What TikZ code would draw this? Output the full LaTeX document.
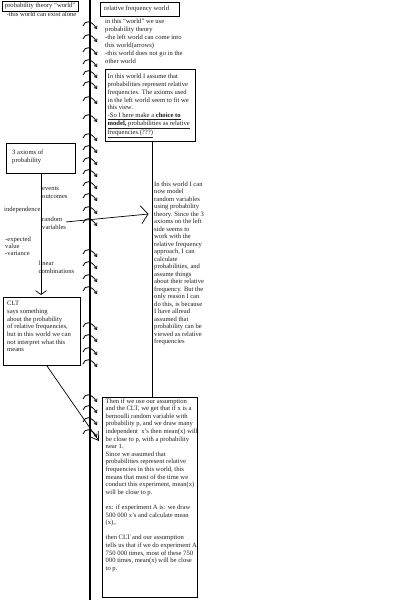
\documentclass[tikz,border=0pt]{standalone}
\usepackage{fontspec}
\setmainfont{Liberation Serif}
\usetikzlibrary{arrows.meta}
\definecolor{PWInk}{HTML}{1E1E1E}
\definecolor{PWLine}{HTML}{000000}
\newcommand{\pwfont}{\fontsize{6.6}{7.6}\selectfont}
\tikzset{
  pwframe/.style={
    draw=PWLine,
    line width=1pt,
    anchor=north west,
    inner sep=0pt
  },
  pwtext/.style={
    anchor=north west,
    inner sep=0pt,
    align=left,
    font=\pwfont,
    text=PWInk
  },
  pwwall/.style={draw=PWLine,line width=1.6pt},
  pwhop/.style={-{Straight Barb[length=2.2pt,width=3.6pt]},draw=PWLine,line width=0.8pt},
  pwflow/.style={-{Straight Barb[length=7pt,width=18pt]},draw=PWLine,line width=0.7pt},
  pwdown/.style={-{Straight Barb[length=4pt,width=11pt]},draw=PWLine,line width=0.7pt}
}

\begin{document}
\begin{tikzpicture}[x=1pt,y=-1pt]
  \useasboundingbox (0,0) rectangle (405,600);
  \fill[white] (0,0) rectangle (405,600);

  % the wall between the two worlds
  \coordinate (walltop) at (90,0);
  \coordinate (wallfoot) at (90,600);
  \draw[pwwall] (walltop) -- (wallfoot);
  \foreach \y in {24,37,50,62,73,84,99,117,136,148,160,172,184,196,209,221,
                  252,264,277,289,325,337,350,362,397,408,420,432}
    \draw[pwhop] (83,\y+2) .. controls (85,\y-4) and (91,\y-4) .. (97,\y+5);

  % left world
  \node[pwframe,minimum width=76pt,minimum height=10.5pt] (theorybox) at (2,0.5) {};
  \node[pwtext] (theorytitle) at (4.8,2.6) {probability theory ``world''};
  \node[pwtext] (alone) at (6.5,12) {-this world can exist alone};

  \node[pwframe,minimum width=69pt,minimum height=30pt] (axbox) at (6,143) {};
  \node[pwtext,font=\fontsize{6.6}{8}\selectfont] (axtext) at (12,149.4) {3 axioms of\\probability};

  \node[pwtext,font=\fontsize{6.6}{8}\selectfont] (events) at (42,186.4) {events\\outcomes};
  \node[pwtext] (indep) at (4,206.4) {independence};
  \node[pwtext,font=\fontsize{6.6}{8}\selectfont] (rvtext) at (42,216.4) {random\\variables};
  \node[pwtext,font=\fontsize{6.6}{7}\selectfont] (moments) at (5,236.4) {-expected\\value\\-variance};
  \node[pwtext,font=\fontsize{6.6}{8}\selectfont] (lincomb) at (38.5,260.4) {linear\\combinations};

  \node[pwframe,minimum width=77pt,minimum height=68pt] (cltbox) at (3,297) {};
  \node[pwtext,font=\fontsize{6.6}{7.67}\selectfont] (clttext) at (7,301.4) {CLT\\says something\\about the probability\\of relative frequencies,\\but in this world we can\\not interpret what this\\means};

  % right world
  \node[pwframe,minimum width=79.5pt,minimum height=13.5pt] (freqworld) at (99.5,2) {};
  \node[pwtext] (freqtitle) at (104,5.7) {relative frequency world};
  \node[pwtext,font=\fontsize{6.6}{8}\selectfont] (intro) at (105,19.1) {in this ``world'' we use\\probability theory\\-the left world can come into\\this world(arrows)\\-this world does not go in the\\other world};

  \node[pwframe,minimum width=89.5pt,minimum height=72pt] (freqbox) at (105,69) {};
  \node[pwtext,font=\fontsize{6.6}{7.75}\selectfont] (freqtext) at (107.5,74.1) {In this world I assume that\\probabilities represent relative\\frequencies. The axioms used\\in the left world seem to fit we\\this view.\\\underline{-So I here make a \textbf{choice to}}\\\underline{\textbf{model,} probabilities as relative}\\\underline{frequencies.(???)}};

  \node[pwtext,font=\fontsize{6.6}{7.5}\selectfont] (modeltext) at (154,181.4) {In this world I can\\now model\\random variables\\using probability\\theory. Since the 3\\axioms on the left\\side seems to\\work with the\\relative frequency\\approach, I can\\calculate\\probabilities, and\\assume things\\about their relative\\frequency. But the\\only reason I can\\do this, is because\\I have allread\\assumed that\\probability can be\\viewed as relative\\frequencies};

  \node[pwframe,minimum width=95pt,minimum height=200pt] (expbox) at (102,397) {};
  \node[pwtext] (exptext) at (105.5,398.3) {Then if we use our assumption\\and the CLT, we get that if x is a\\bernoulli random variable with\\probability p, and we draw many\\independent\ \ x's then mean(x) will\\be close to p, with a probability\\near 1.\\Since we assumed that\\probabilities represent relative\\frequencies in this world, this\\means that most of the time we\\conduct this experiment, mean(x)\\will be close to p.\\[7.6pt]ex: if experiment A is: we draw\\500 000 x's and calculate mean\\(x),.\\[7.6pt]then CLT and our assumption\\tells us that if we do experiment A\\750 000 times, most of these 750\\000 times, mean(x) will be close\\to p.};

  % connections
  \coordinate (rvtip) at (148.5,214);
  \coordinate (clttip) at (99,441);
  \draw[draw=PWLine,line width=0.9pt] ([xshift=2pt]freqbox.south) -- ([xshift=2pt]freqbox.south |- expbox.north);
  \draw[pwdown] (axbox.south) -- ([yshift=2pt]axbox.south |- cltbox.north);
  \draw[pwflow] ([yshift=1pt]rvtext.east) -- (rvtip);
  \draw[pwflow,-{Straight Barb[length=8pt,width=10pt]}] ([xshift=5pt]cltbox.south) -- (clttip);
\end{tikzpicture}
\end{document}
